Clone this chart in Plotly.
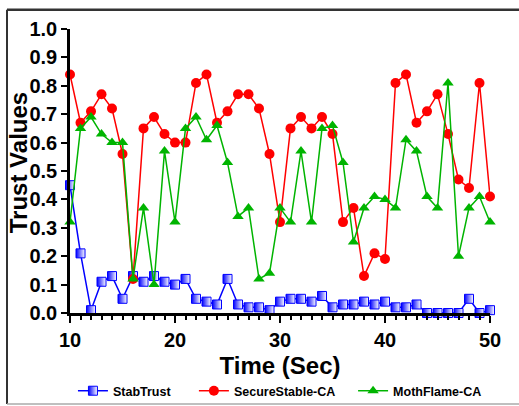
import plotly.graph_objects as go

time_sec = list(range(10, 51))
stab_trust = [0.45, 0.21, 0.01, 0.11, 0.13, 0.05, 0.13, 0.11, 0.13, 0.11,
              0.10, 0.12, 0.05, 0.04, 0.03, 0.12, 0.03, 0.02, 0.02, 0.01,
              0.04, 0.05, 0.05, 0.04, 0.06, 0.02, 0.03, 0.03, 0.04, 0.03,
              0.04, 0.02, 0.02, 0.03, 0.00, 0.00, 0.00, 0.00, 0.05, 0.00,
              0.01]
secure_stable = [0.84, 0.67, 0.71, 0.77, 0.72, 0.56, 0.12, 0.65, 0.69, 0.63,
                 0.60, 0.60, 0.81, 0.84, 0.67, 0.71, 0.77, 0.77, 0.72, 0.56,
                 0.32, 0.65, 0.69, 0.65, 0.69, 0.63, 0.32, 0.37, 0.13, 0.21,
                 0.19, 0.81, 0.84, 0.67, 0.71, 0.77, 0.63, 0.47, 0.44, 0.81,
                 0.41]
moth_flame = [0.32, 0.65, 0.69, 0.63, 0.60, 0.60, 0.12, 0.37, 0.10, 0.57,
              0.32, 0.65, 0.69, 0.61, 0.66, 0.53, 0.34, 0.37, 0.12, 0.14,
              0.37, 0.32, 0.57, 0.32, 0.65, 0.66, 0.53, 0.25, 0.37, 0.41,
              0.40, 0.37, 0.61, 0.57, 0.41, 0.37, 0.81, 0.20, 0.37, 0.41,
              0.32]
x_ticks = [10, 20, 30, 40, 50]
y_ticks = [0.0, 0.1, 0.2, 0.3, 0.4, 0.5, 0.6, 0.7, 0.8, 0.9, 1.0]

FONT = "Liberation Sans, Arial, sans-serif"

fig = go.Figure()
fig.add_trace(go.Scatter(
    x=time_sec, y=stab_trust, name="StabTrust", mode="lines+markers",
    line=dict(color="#0000ff", width=1.5),
    marker=dict(symbol="square", size=9, color="#0000ff",
                gradient=dict(type="horizontal", color="#ffffff"),
                line=dict(color="#0000ff", width=1)),
    cliponaxis=False, legend="legend",
))
fig.add_trace(go.Scatter(
    x=time_sec, y=secure_stable, name="SecureStable-CA", mode="lines+markers",
    line=dict(color="#ff0000", width=1.5),
    marker=dict(symbol="circle", size=10, color="#ff0000"),
    cliponaxis=False, legend="legend2",
))
fig.add_trace(go.Scatter(
    x=time_sec, y=moth_flame, name="MothFlame-CA", mode="lines+markers",
    line=dict(color="#00b400", width=1.5),
    marker=dict(symbol="triangle-up", size=10, color="#00b400"),
    cliponaxis=False, legend="legend3",
))

frame = dict(type="line", xref="paper", yref="paper", layer="above")
fig.add_shape(**frame, x0=-0.15, x1=1.12, y0=1.068, y1=1.068,
              line=dict(color="#333333", width=2.5))
fig.add_shape(**frame, x0=-0.15, x1=-0.15, y0=1.068, y1=-0.32,
              line=dict(color="#333333", width=2))
fig.add_shape(**frame, x0=-0.15, x1=1.12, y0=-0.32, y1=-0.32,
              line=dict(color="#aaaaaa", width=1.5))

# y-axis title placed precisely
fig.add_annotation(text="Trust Values", xref="paper", yref="paper",
                   x=-0.122, y=0.53, xanchor="center", yanchor="middle",
                   textangle=-90, showarrow=False,
                   font=dict(size=24, family=FONT, weight="bold", color="black"))

leg = dict(orientation="h", xanchor="left", y=-0.275, yanchor="middle",
           font=dict(size=12.5, family=FONT, weight="bold"), itemwidth=30,
           bgcolor="rgba(0,0,0,0)")

fig.update_layout(
    width=519, height=406,
    margin=dict(l=70, r=29, t=29, b=93, autoexpand=False),
    paper_bgcolor="white", plot_bgcolor="white",
    font=dict(family=FONT, color="black"),
    showlegend=True,
    legend=dict(leg, x=0.007),
    legend2=dict(leg, x=0.295),
    legend3=dict(leg, x=0.674),
    xaxis=dict(
        range=[10, 50], tickvals=x_ticks, ticks="outside", ticklen=7, tickwidth=2,
        tickcolor="black", showline=True, linecolor="black", linewidth=2.5,
        showgrid=False, zeroline=False, automargin=False,
        tickfont=dict(size=20, family=FONT, weight="bold"),
        minor=dict(dtick=1, ticks="outside", ticklen=4, tickwidth=1.5, tickcolor="black",
                   showgrid=False),
        title=dict(text="Time (Sec)", font=dict(size=24, family=FONT, weight="bold"),
                   standoff=8),
    ),
    yaxis=dict(
        range=[0, 1.0], tickvals=y_ticks, tickformat=".1f", ticks="outside",
        ticklen=6, tickwidth=2, tickcolor="black", showline=True,
        linecolor="black", linewidth=2.5, showgrid=False, zeroline=False,
        automargin=False,
        tickfont=dict(size=20, family=FONT, weight="bold"),
    ),
)

fig.write_html("out.html", config={"displayModeBar": False},
               post_script="document.body.style.margin='0';")
